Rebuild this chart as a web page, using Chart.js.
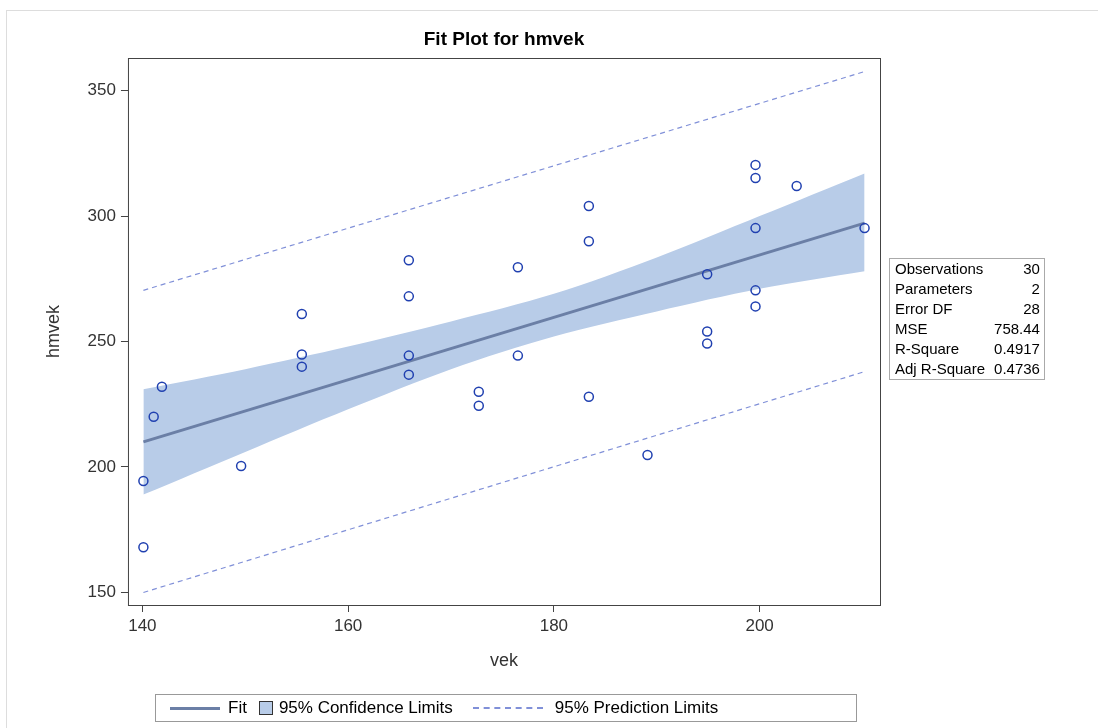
<!DOCTYPE html>
<html><head><meta charset="utf-8">
<script src="https://cdn.jsdelivr.net/npm/chart.js@4"></script>
<style>
body{margin:0;background:#fff;font-family:"Liberation Sans",Arial,sans-serif;}
#wrap{position:relative;width:1098px;height:728px;}
#frame{position:absolute;left:6px;top:10px;width:1120px;height:740px;border:1px solid #ddd;}
#title{position:absolute;left:128px;width:752px;top:28px;text-align:center;font-weight:bold;font-size:19px;}
#stats{position:absolute;left:889px;top:258px;border:1px solid #aaa;font-size:15px;border-collapse:collapse;}
#stats td{padding:1px 4px 2px 5px;}
#stats td.v{text-align:right;}
#legend{position:absolute;left:155px;top:694px;width:700px;height:26px;border:1px solid #999;font-size:17px;display:flex;align-items:center;}
</style></head><body>
<div id="wrap">
<div id="frame"></div>
<canvas id="c" width="1098" height="728"></canvas>
<div id="title">Fit Plot for hmvek</div>
<table id="stats">
<tr><td>Observations</td><td class="v">30</td></tr>
<tr><td>Parameters</td><td class="v">2</td></tr>
<tr><td>Error DF</td><td class="v">28</td></tr>
<tr><td>MSE</td><td class="v">758.44</td></tr>
<tr><td>R-Square</td><td class="v">0.4917</td></tr>
<tr><td>Adj R-Square</td><td class="v">0.4736</td></tr>
</table>
<div id="legend">
<span style="display:inline-block;width:50px;height:3px;background:#6b7fa6;margin:0 8px 0 14px"></span>Fit
<span style="display:inline-block;width:12px;height:12px;background:#b8cce8;border:1px solid #333;margin:0 6px 0 12px"></span>95% Confidence Limits
<span style="display:inline-block;width:70px;border-top:2px dashed #8090d8;margin:0 12px 0 20px"></span>95% Prediction Limits
</div>
</div>
<script>
const obsX=[140.1,140.1,141.1,141.9,149.6,155.5,155.5,155.5,165.9,165.9,165.9,165.9,172.7,172.7,176.5,176.5,183.4,183.4,183.4,189.1,194.9,194.9,194.9,199.6,199.6,199.6,199.6,199.6,203.6,210.2];
const obsY=[168,194.4,220,232,200.4,261,244.8,240,282.4,268,244.4,236.8,230,224.4,279.6,244.4,304,290,228,204.8,276.8,254,249.2,320.4,315.2,295.2,270.4,264,312,295.2];
const fitX=[140.1,210.2];
const fitY=[210,297.2];
const bandX=[140.1,150,160,170,180,190,200,210.2];
const bandUpper=[231,239,248,258,269,283.5,300,317];
const bandLower=[189,206,223,239,252,262,271,278];
const predX=[140.1,210.2];
const predUpper=[270.4,357.6];
const predLower=[150,238];
const xTicks=[140,160,180,200];
const yTicks=[150,200,250,300,350];
const pts=(xs,ys)=>xs.map((x,i)=>({x,y:ys[i]}));
const border={id:'b',afterDraw(c){const a=c.chartArea,ctx=c.ctx;ctx.save();ctx.strokeStyle='#444';ctx.lineWidth=1;ctx.strokeRect(a.left+0.5,a.top+0.5,a.right-a.left,a.bottom-a.top);ctx.restore();}};
const gridOpt={display:true,drawOnChartArea:false,drawTicks:true,tickLength:7,tickColor:'#444'};
new Chart(document.getElementById('c'),{
type:'scatter',
data:{datasets:[
{order:10,data:pts(bandX,bandUpper),showLine:true,pointRadius:0,borderWidth:0,backgroundColor:'#b8cce8',fill:'+1',tension:0.3},
{order:9,data:pts(bandX,bandLower),showLine:true,pointRadius:0,borderWidth:0,fill:false,tension:0.3},
{order:5,data:pts(fitX,fitY),showLine:true,pointRadius:0,borderColor:'#6b7fa6',borderWidth:3},
{order:4,data:pts(predX,predUpper),showLine:true,pointRadius:0,borderColor:'#8090d8',borderWidth:1.2,borderDash:[5,4]},
{order:4,data:pts(predX,predLower),showLine:true,pointRadius:0,borderColor:'#8090d8',borderWidth:1.2,borderDash:[5,4]},
{order:0,data:pts(obsX,obsY),pointRadius:4.5,pointBorderColor:'#2040b0',pointBackgroundColor:'rgba(0,0,0,0)',pointBorderWidth:1.5}
]},
options:{responsive:false,animation:false,
layout:{padding:{left:39,right:218,top:58,bottom:0}},
plugins:{legend:{display:false},tooltip:{enabled:false}},
scales:{
x:{min:138.6,max:211.7,afterBuildTicks:s=>{s.ticks=xTicks.map(v=>({value:v}));},grid:gridOpt,border:{display:false},
 ticks:{color:'#333',padding:4,font:{size:17,family:'Liberation Sans'}},title:{display:true,text:'vek',color:'#333',font:{size:18,family:'Liberation Sans'},padding:{top:10,bottom:56}}},
y:{min:145,max:363,afterBuildTicks:s=>{s.ticks=yTicks.map(v=>({value:v}));},grid:gridOpt,border:{display:false},
 ticks:{color:'#333',padding:5,font:{size:17,family:'Liberation Sans'}},title:{display:true,text:'hmvek',color:'#333',font:{size:18,family:'Liberation Sans'},padding:{bottom:18}}}
}},
plugins:[border]});
</script>
</body></html>
